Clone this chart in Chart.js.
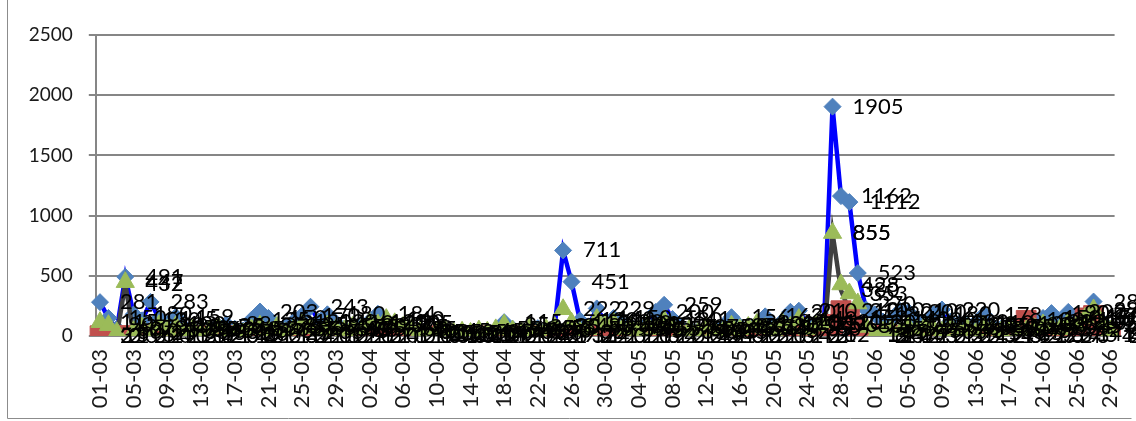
<!DOCTYPE html>
<html>
<head>
<meta charset="utf-8">
<script src="https://cdn.jsdelivr.net/npm/chart.js@4/dist/chart.umd.min.js"></script>
<style>
  html, body { margin: 0; padding: 0; background: #ffffff; }
  #wrap { position: relative; width: 1136px; height: 421px; }
</style>
</head>
<body>
<div id="wrap"><canvas id="chart" width="1136" height="421"></canvas></div>
<script>
// Daily categories, 1 March to 29 June
const days = [
  '01-03','02-03','03-03','04-03','05-03','06-03','07-03','08-03','09-03','10-03',
  '11-03','12-03','13-03','14-03','15-03','16-03','17-03','18-03','19-03','20-03',
  '21-03','22-03','23-03','24-03','25-03','26-03','27-03','28-03','29-03','30-03','31-03',
  '01-04','02-04','03-04','04-04','05-04','06-04','07-04','08-04','09-04','10-04',
  '11-04','12-04','13-04','14-04','15-04','16-04','17-04','18-04','19-04','20-04',
  '21-04','22-04','23-04','24-04','25-04','26-04','27-04','28-04','29-04','30-04',
  '01-05','02-05','03-05','04-05','05-05','06-05','07-05','08-05','09-05','10-05',
  '11-05','12-05','13-05','14-05','15-05','16-05','17-05','18-05','19-05','20-05',
  '21-05','22-05','23-05','24-05','25-05','26-05','27-05','28-05','29-05','30-05','31-05',
  '01-06','02-06','03-06','04-06','05-06','06-06','07-06','08-06','09-06','10-06',
  '11-06','12-06','13-06','14-06','15-06','16-06','17-06','18-06','19-06','20-06',
  '21-06','22-06','23-06','24-06','25-06','26-06','27-06','28-06','29-06'
];

// Value axis ticks
const yTicks = [0, 500, 1000, 1500, 2000, 2500];

// Series 1 (blue line, diamonds)
const seriesBlue = [
  281,150,60,491,180,130,283,145,100,159,
  70,50,40,60,85,98,60,45,135,203,
  150,60,80,120,170,243,120,180,110,60,
  50,80,120,184,120,90,60,40,30,20,
  15,10,12,8,10,14,20,40,115,60,
  40,30,65,40,80,711,451,130,80,229,
  120,150,100,80,60,100,200,259,141,73,
  60,40,30,50,80,156,80,60,100,163,
  80,120,201,210,100,60,120,1905,1162,1112,
  523,220,180,120,140,210,200,130,110,180,
  220,120,100,90,110,178,80,60,50,100,
  90,120,150,190,120,200,130,170,286,120,60
];

// Series 2 (red squares)
const seriesRed = [
  2,0,1,3,0,1,2,0,1,0,
  3,1,0,2,1,0,1,0,2,1,
  0,1,3,0,2,1,0,1,0,2,
  1,0,2,1,0,1,0,1,0,0,
  0,1,0,0,1,0,0,1,0,1,
  0,1,2,0,1,9,3,0,1,2,
  1,0,2,1,0,3,1,2,0,1,
  0,1,0,2,1,0,1,0,2,1,
  0,3,1,4,0,2,12,96,210,150,
  80,12,3,1,4,0,2,1,3,0,
  1,2,0,3,1,5,2,4,3,6,
  130,12,7,5,6,9,14,150,170,12,4
];

// Series 3 (green triangles)
const seriesGreen = [
  115,90,30,447,40,70,25,90,50,80,
  35,55,25,45,75,35,25,20,55,85,
  45,75,25,55,95,65,35,85,55,45,
  75,55,110,95,140,105,75,55,35,25,
  35,45,25,35,25,45,35,55,95,45,
  35,65,25,55,75,222,110,35,55,140,
  95,110,55,75,45,85,55,130,75,35,
  55,25,75,45,35,85,55,75,100,65,
  45,110,75,140,55,85,110,855,428,353,
  270,75,8,35,55,25,75,45,85,55,
  35,75,45,65,25,85,55,35,75,25,
  45,65,95,75,55,110,85,150,220,95,45
];

// Series 4 (dark grey line)
const seriesGrey = [
  3,2,5,432,2,6,1,4,2,1,
  2,3,1,2,1,3,1,2,3,1,
  2,1,3,2,4,2,1,3,2,1,
  2,1,3,2,4,3,2,1,1,0,
  0,1,0,0,0,1,1,1,2,1,
  1,2,1,2,3,84,12,2,1,4,
  2,3,1,2,1,3,2,4,2,1,
  2,1,2,1,1,3,2,2,3,2,
  1,3,2,4,2,3,6,855,380,210,
  120,14,2,2,3,1,4,2,3,2,
  1,3,2,2,1,3,2,1,3,1,
  2,2,3,3,2,4,3,5,96,4,2
];

// Value labels drawn to the right of each point
const pointValueLabels = {
  id: 'pointValueLabels',
  afterDatasetsDraw(chart) {
    const ctx = chart.ctx;
    ctx.save();
    ctx.font = '22px Lato, "Open Sans", sans-serif';
    ctx.fillStyle = '#000000';
    ctx.textAlign = 'left';
    ctx.textBaseline = 'middle';
    chart.data.datasets.forEach((ds, di) => {
      const meta = chart.getDatasetMeta(di);
      meta.data.forEach((pt, i) => {
        ctx.fillText(String(ds.data[i]), pt.x + 20, pt.y);
      });
    });
    ctx.restore();
  }
};

// Outer chart frame
const chartFrame = {
  id: 'chartFrame',
  afterDraw(chart) {
    const ctx = chart.ctx;
    ctx.save();
    ctx.strokeStyle = '#8c8c8c';
    ctx.lineWidth = 1;
    ctx.beginPath();
    ctx.moveTo(7.5, 0);
    ctx.lineTo(7.5, 418.5);
    ctx.lineTo(1131.5, 418.5);
    ctx.stroke();
    ctx.restore();
  }
};

const whiteBg = {
  id: 'whiteBg',
  beforeDraw(chart) {
    const ctx = chart.ctx;
    ctx.save();
    ctx.fillStyle = '#ffffff';
    ctx.fillRect(0, 0, chart.width, chart.height);
    ctx.restore();
  }
};

new Chart(document.getElementById('chart'), {
  type: 'line',
  data: {
    labels: days,
    datasets: [
      {
        data: seriesBlue,
        borderColor: '#0000ff',
        borderWidth: 4.5,
        pointStyle: 'rectRot',
        pointRadius: 8.5,
        pointBackgroundColor: '#4f81bd',
        pointBorderColor: '#4f81bd',
        pointBorderWidth: 1,
        tension: 0,
        order: 4
      },
      {
        data: seriesRed,
        showLine: false,
        pointStyle: 'rect',
        pointRadius: 14,
        pointBackgroundColor: '#c0504d',
        pointBorderColor: '#c0504d',
        pointBorderWidth: 1,
        order: 2
      },
      {
        data: seriesGreen,
        showLine: false,
        pointStyle: 'triangle',
        pointRadius: 10.5,
        pointBackgroundColor: '#9bbb59',
        pointBorderColor: '#9bbb59',
        pointBorderWidth: 1,
        order: 1
      },
      {
        data: seriesGrey,
        borderColor: '#404040',
        borderWidth: 4.5,
        pointRadius: 0,
        tension: 0,
        order: 3
      }
    ]
  },
  options: {
    responsive: false,
    animation: false,
    devicePixelRatio: 1,
    layout: { padding: { top: 35, right: 21.4, bottom: 0, left: 0 } },
    plugins: {
      legend: { display: false },
      tooltip: { enabled: false }
    },
    scales: {
      x: {
        type: 'category',
        offset: true,
        grid: { display: true, drawOnChartArea: false, drawTicks: false, tickLength: 0 },
        border: { display: true, color: '#868686', width: 2 },
        ticks: {
          autoSkip: false,
          minRotation: 90,
          maxRotation: 90,
          padding: 13,
          color: '#1a1a1a',
          font: { family: 'Lato', size: 22 },
          callback: (v, i) => (i % 4 === 0 ? days[i] : '')
        },
        afterFit: (scale) => {
          scale.height = 85;
          scale.paddingLeft = 0;
          scale.paddingRight = 0;
        }
      },
      y: {
        min: 0,
        max: 2500,
        afterBuildTicks: (scale) => { scale.ticks = yTicks.map(v => ({ value: v })); },
        grid: { color: '#868686', lineWidth: 2, tickLength: 7 },
        border: { display: true, color: '#868686', width: 2 },
        ticks: {
          padding: 16,
          color: '#1a1a1a',
          font: { family: 'Lato', size: 19 },
          callback: (v) => String(v)
        },
        afterFit: (scale) => {
          scale.width = 95.8;
          scale.paddingTop = 0;
          scale.paddingBottom = 0;
        }
      }
    }
  },
  plugins: [whiteBg, pointValueLabels, chartFrame]
});
</script>
</body>
</html>
